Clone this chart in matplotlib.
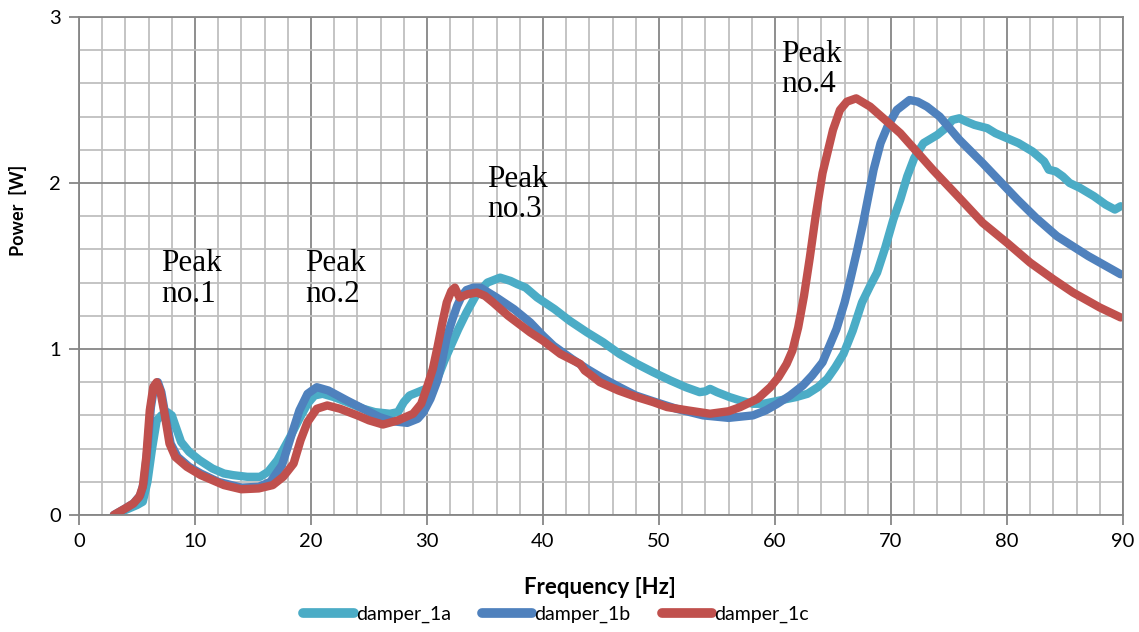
import matplotlib
matplotlib.use("Agg")
import matplotlib.pyplot as plt
from matplotlib.ticker import MultipleLocator
from matplotlib.lines import Line2D

# ---- data ----
f_1a = [3.2, 4.0, 5.0, 5.5, 5.9, 6.3, 6.7, 7.1, 7.6, 8.0, 8.4, 8.8, 9.5, 10.4, 11.5, 12.5,
        13.3, 14.5, 15.6, 16.3, 17.1, 18.2, 19.0, 19.7, 20.3, 21.0, 22.0, 23.1, 24.5, 25.5,
        26.8, 27.5, 28.0, 28.5, 29.2, 29.9, 30.5, 31.0, 31.5, 32.0, 32.7, 33.4, 34.2, 35.2,
        36.3, 37.2, 37.8, 38.5, 39.5, 41.0, 42.3, 43.8, 45.2, 46.6, 48.1, 49.5, 51.0, 52.3,
        53.5, 54.0, 54.4, 55.0, 56.1, 57.0, 58.1, 59.0, 60.4, 61.8, 62.8, 63.7, 64.5, 65.2,
        65.9, 66.7, 67.5, 68.2, 68.8, 69.5, 70.2, 70.8, 71.4, 72.0, 72.8, 74.0, 74.7, 75.3,
        75.9, 76.5, 77.2, 78.3, 79.0, 80.0, 81.0, 82.2, 83.2, 83.6, 84.2, 84.8, 85.4, 86.3,
        87.5, 88.5, 89.3, 89.8]
p_1a = [0.00, 0.03, 0.06, 0.08, 0.20, 0.40, 0.57, 0.60, 0.62, 0.60, 0.52, 0.44, 0.38, 0.33,
        0.28, 0.25, 0.24, 0.23, 0.23, 0.26, 0.33, 0.47, 0.58, 0.67, 0.72, 0.73, 0.71, 0.68,
        0.64, 0.62, 0.61, 0.62, 0.68, 0.72, 0.74, 0.76, 0.80, 0.84, 0.93, 1.01, 1.12, 1.22,
        1.32, 1.40, 1.43, 1.41, 1.39, 1.37, 1.31, 1.24, 1.17, 1.10, 1.04, 0.97, 0.91, 0.86,
        0.81, 0.77, 0.74, 0.745, 0.76, 0.74, 0.71, 0.69, 0.67, 0.67, 0.69, 0.71, 0.73, 0.77,
        0.82, 0.89, 0.97, 1.11, 1.28, 1.38, 1.46, 1.61, 1.78, 1.90, 2.04, 2.15, 2.24, 2.29,
        2.33, 2.38, 2.39, 2.37, 2.35, 2.33, 2.30, 2.27, 2.24, 2.19, 2.13, 2.08, 2.07, 2.04,
        2.00, 1.97, 1.92, 1.87, 1.84, 1.86]

f_1b = [3.0, 4.0, 4.7, 5.3, 5.6, 5.9, 6.2, 6.5, 6.8, 7.1, 7.5, 7.9, 8.5, 9.5, 10.5, 12.0,
        14.0, 15.5, 16.5, 17.5, 18.4, 19.0, 19.7, 20.5, 21.5, 23.1, 24.5, 25.9, 27.0, 28.3,
        29.2, 29.7, 30.3, 30.9, 31.3, 31.7, 32.2, 32.6, 33.0, 33.4, 34.0, 34.6, 35.3, 36.0,
        37.5, 38.9, 40.0, 40.9, 42.5, 43.8, 45.0, 46.6, 48.0, 49.5, 51.5, 53.8, 56.0, 58.1,
        59.2, 60.2, 61.3, 62.4, 63.2, 64.1, 64.7, 65.3, 66.0, 66.5, 67.1, 67.6, 68.5, 69.1,
        69.7, 70.5, 71.6, 72.3, 73.1, 74.2, 75.9, 77.9, 80.9, 82.5, 84.3, 87.0, 89.8]
p_1b = [0.00, 0.04, 0.07, 0.12, 0.20, 0.40, 0.65, 0.78, 0.80, 0.74, 0.58, 0.43, 0.35, 0.29,
        0.25, 0.20, 0.165, 0.17, 0.20, 0.30, 0.50, 0.63, 0.73, 0.77, 0.75, 0.69, 0.64, 0.59,
        0.565, 0.555, 0.58, 0.62, 0.70, 0.81, 0.93, 1.07, 1.18, 1.26, 1.32, 1.355, 1.37, 1.37,
        1.34, 1.31, 1.24, 1.16, 1.08, 1.02, 0.94, 0.88, 0.83, 0.77, 0.72, 0.685, 0.64, 0.60,
        0.585, 0.60, 0.63, 0.67, 0.72, 0.78, 0.84, 0.92, 1.02, 1.12, 1.28, 1.42, 1.60, 1.76,
        2.08, 2.24, 2.34, 2.44, 2.50, 2.49, 2.46, 2.40, 2.26, 2.12, 1.90, 1.79, 1.68, 1.56,
        1.45]

f_1c = [3.0, 4.0, 4.7, 5.2, 5.5, 5.8, 6.1, 6.4, 6.7, 7.0, 7.4, 7.8, 8.3, 9.3, 10.5, 11.5,
        12.5, 14.0, 15.5, 16.7, 17.6, 18.5, 19.1, 19.7, 20.5, 21.4, 22.5, 24.0, 25.0, 26.2,
        27.5, 28.8, 29.5, 30.0, 30.5, 30.9, 31.3, 31.7, 32.1, 32.4, 32.8, 33.5, 34.3, 35.0,
        35.7, 37.0, 38.9, 40.0, 41.5, 43.2, 43.6, 44.0, 44.9, 46.5, 48.1, 49.5, 50.7, 52.5,
        54.4, 56.0, 57.0, 58.5, 59.6, 60.3, 61.0, 61.5, 62.0, 62.5, 63.0, 63.5, 64.1, 65.0,
        65.6, 66.2, 67.0, 68.2, 69.5, 70.8, 73.6, 75.9, 77.9, 80.0, 82.0, 84.0, 85.7, 88.0,
        89.8]
p_1c = [0.00, 0.04, 0.07, 0.11, 0.17, 0.35, 0.63, 0.77, 0.80, 0.75, 0.60, 0.43, 0.35, 0.29,
        0.24, 0.21, 0.18, 0.155, 0.16, 0.18, 0.23, 0.31, 0.45, 0.56, 0.64, 0.66, 0.64, 0.60,
        0.57, 0.545, 0.57, 0.61, 0.67, 0.77, 0.88, 1.01, 1.15, 1.28, 1.35, 1.37, 1.31, 1.33,
        1.34, 1.32, 1.28, 1.20, 1.10, 1.05, 0.97, 0.91, 0.87, 0.85, 0.80, 0.75, 0.71, 0.68,
        0.65, 0.63, 0.61, 0.625, 0.65, 0.70, 0.77, 0.83, 0.91, 0.99, 1.13, 1.32, 1.55, 1.80,
        2.06, 2.32, 2.44, 2.49, 2.51, 2.46, 2.38, 2.30, 2.08, 1.91, 1.76, 1.64, 1.52, 1.42,
        1.34, 1.25, 1.19]

series_names = ["damper_1a", "damper_1b", "damper_1c"]
series_colors = ["#4BACC6", "#4F81BD", "#C0504D"]
x_ticks = [0, 10, 20, 30, 40, 50, 60, 70, 80, 90]
y_ticks = [0, 1, 2, 3]
peak_labels = ["Peak\nno.1", "Peak\nno.2", "Peak\nno.3", "Peak\nno.4"]
peak_x = [7.1, 19.5, 35.2, 60.5]
peak_y = [1.60, 1.60, 2.11, 2.86]

# ---- figure ----
fig = plt.figure(figsize=(11.39, 6.32), dpi=100)
ax = fig.add_axes([79 / 1139, 1 - 515 / 632, (1123 - 79) / 1139, (515 - 17) / 632])

ax.set_xlim(0, 90)
ax.set_ylim(0, 3)
ax.xaxis.set_minor_locator(MultipleLocator(2))
ax.yaxis.set_minor_locator(MultipleLocator(0.2))
ax.set_xticks(x_ticks)
ax.set_yticks(y_ticks)
ax.grid(which="minor", color="#BFBFBF", linewidth=1.3)
ax.grid(which="major", color="#868686", linewidth=1.3)
ax.set_axisbelow(True)
for s in ax.spines.values():
    s.set_color("#868686")
    s.set_linewidth(1.3)
ax.tick_params(which="major", direction="out", length=7, width=1.3, color="#868686",
               labelsize=14.5, pad=6)
ax.tick_params(which="minor", length=0)
for lab in ax.get_xticklabels() + ax.get_yticklabels():
    lab.set_fontfamily("Lato")

data = [(f_1a, p_1a), (f_1b, p_1b), (f_1c, p_1c)]
for (f, p), c, n in zip(data, series_colors, series_names):
    ax.plot(f, p, color=c, linewidth=6, solid_capstyle="round",
            solid_joinstyle="round", label=n)

for t, x, y in zip(peak_labels, peak_x, peak_y):
    ax.text(x, y, t, fontsize=22.5, family="Liberation Serif", va="top", ha="left",
            linespacing=1.05)

fig.text(18 / 1139, 1 - 210 / 632, "Power  [W]", rotation=90, ha="center", va="center",
         fontsize=13, fontweight="bold", family="Lato")
fig.text(600 / 1139, 1 - 588 / 632, "Frequency [Hz]", ha="center", va="center",
         fontsize=16, fontweight="bold", family="Lato")

handles = [Line2D([0], [0], color=c, linewidth=7, solid_capstyle="round")
           for c in series_colors]
leg = fig.legend(handles, series_names, loc="center", bbox_to_anchor=(556 / 1139, 1 - 614 / 632),
                 ncol=3, frameon=False, handlelength=2.6, handletextpad=0.1,
                 columnspacing=1.6, prop={"family": "Lato", "size": 14})

fig.savefig("out.png", dpi=100)
